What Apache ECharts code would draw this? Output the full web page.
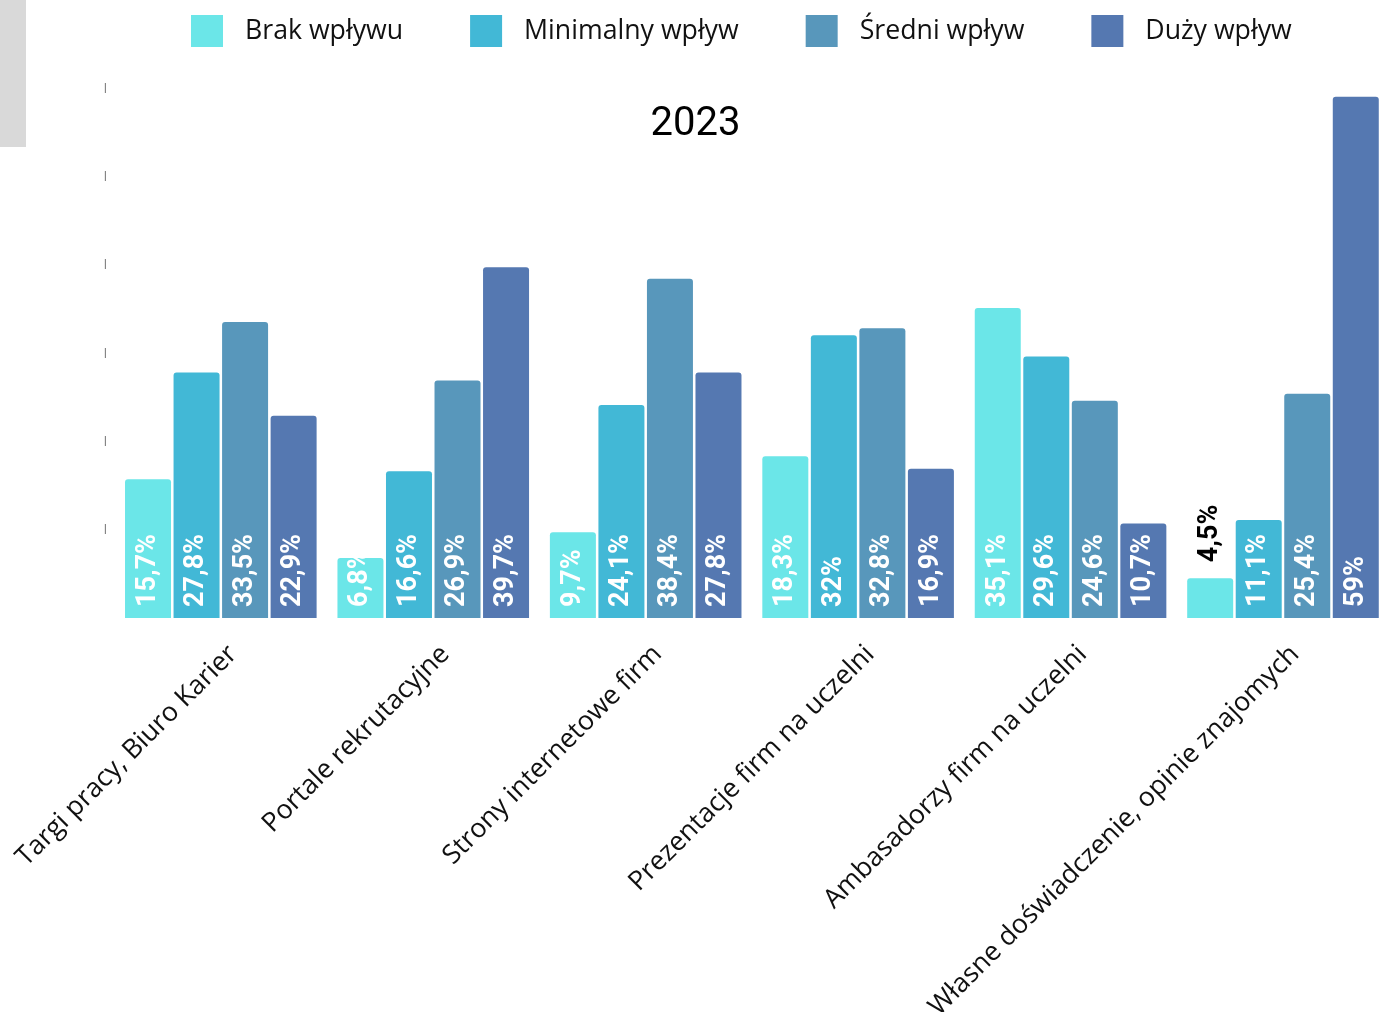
<!DOCTYPE html>
<html>
<head>
<meta charset="utf-8">
<script src="https://cdn.jsdelivr.net/npm/echarts@6/dist/echarts.min.js"></script>
<style>
  html, body { margin: 0; padding: 0; background: #fff; }
  #chart { width: 1379px; height: 1012px; }
</style>
</head>
<body>
<div id="chart"></div>
<script>
// Źródła informacji o pracodawcach – wpływ na decyzję (2023)
const categories = [
  'Targi pracy, Biuro Karier',
  'Portale rekrutacyjne',
  'Strony internetowe firm',
  'Prezentacje firm na uczelni',
  'Ambasadorzy firm na uczelni',
  'Własne doświadczenie, opinie znajomych'
];
const seriesNames = ['Brak wpływu', 'Minimalny wpływ', 'Średni wpływ', 'Duży wpływ'];
const brakWplywu     = [15.7, 6.8, 9.7, 18.3, 35.1, 4.5];
const minimalnyWplyw = [27.8, 16.6, 24.1, 32, 29.6, 11.1];
const sredniWplyw    = [33.5, 26.9, 38.4, 32.8, 24.6, 25.4];
const duzyWplyw      = [22.9, 39.7, 27.8, 16.9, 10.7, 59];
const yTicks = [0, 10, 20, 30, 40, 50, 60];

const colors = ['#6be6e8', '#42b8d6', '#5897bb', '#5578b1'];
const values = [brakWplywu, minimalnyWplyw, sredniWplyw, duzyWplyw];

const fmt = v => String(v).replace('.', ',') + '%';

const insideLabel = {
  show: true,
  position: 'insideBottom',
  rotate: 90,
  align: 'left',
  verticalAlign: 'middle',
  distance: 11,
  color: '#ffffff',
  fontFamily: 'Roboto',
  fontWeight: 'bold',
  fontSize: 27,
  formatter: p => fmt(p.value)
};

// Very short bars get their label above the bar in dark text
const toData = arr => arr.map(v => v < 6 ? {
  value: v,
  label: { position: 'top', distance: 16, color: '#000000' }
} : v);

const chart = echarts.init(document.getElementById('chart'));
chart.setOption({
  animation: false,
  color: colors,
  title: {
    text: '2023',
    left: 695.5,
    textAlign: 'center',
    top: 105,
    padding: 0,
    textStyle: { fontFamily: 'Roboto', fontWeight: 'normal', fontSize: 40, color: '#000' }
  },
  legend: {
    top: 15,
    left: 191,
    padding: 0,
    itemWidth: 32,
    itemHeight: 32,
    itemGap: 67,
    icon: 'rect',
    textStyle: {
      fontFamily: 'Open Sans',
      fontSize: 26.7,
      color: '#111',
      padding: [0, 0, 0, 17]
    },
    data: seriesNames
  },
  graphic: [{
    type: 'rect',
    left: 0,
    top: 0,
    shape: { width: 26, height: 147 },
    style: { fill: '#d9d9d9' }
  }],
  grid: {
    left: 114.6,
    width: 1274.6,
    top: 88,
    height: 530,
    outerBoundsMode: 'none'
  },
  xAxis: {
    type: 'category',
    data: categories,
    axisLine: { show: false },
    axisTick: { show: false },
    axisLabel: {
      rotate: 45,
      margin: 20,
      align: 'right',
      verticalAlign: 'top',
      lineHeight: 34,
      interval: 0,
      fontFamily: 'Open Sans',
      fontSize: 26.7,
      color: '#111'
    }
  },
  yAxis: {
    type: 'value',
    min: yTicks[0],
    max: yTicks[yTicks.length - 1],
    interval: 10,
    splitLine: { show: false },
    axisLine: { show: false },
    axisTick: { show: false },
    axisLabel: {
      margin: 8,
      fontSize: 10,
      color: '#555',
      formatter: v => v === 0 ? '' : '|'
    }
  },
  series: seriesNames.map((name, i) => ({
    name,
    type: 'bar',
    data: toData(values[i]),
    barWidth: 46,
    barGap: '5.5%',
    itemStyle: { color: colors[i], borderRadius: [3, 3, 0, 0] },
    label: insideLabel
  }))
});
</script>
</body>
</html>
